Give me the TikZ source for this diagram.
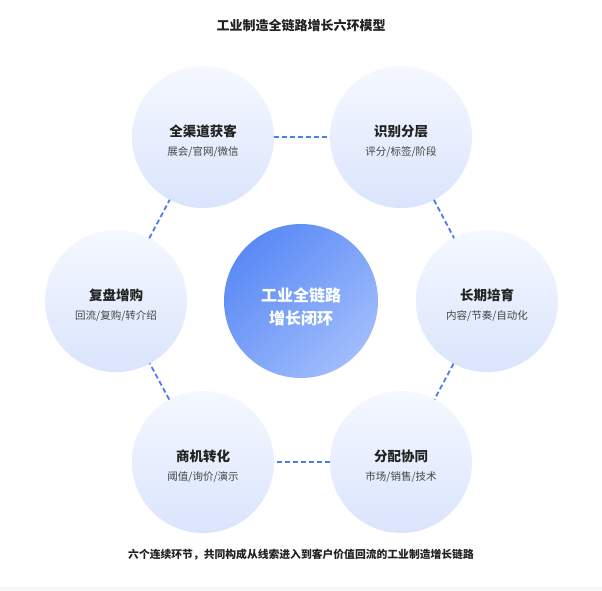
\documentclass[tikz,border=0pt]{standalone}
\usepackage{fontspec}
\setmainfont{Noto Sans CJK SC}
\usepackage{tikz}

\definecolor{ringtop}{HTML}{F5F8FF}
\definecolor{ringbot}{HTML}{DAE4FC}
\definecolor{hubtop}{HTML}{5A8AF6}
\definecolor{hubbot}{HTML}{A0BCFB}
\definecolor{linkblue}{HTML}{4A7CF2}
\definecolor{inkdark}{HTML}{222222}
\definecolor{inkgray}{HTML}{444444}
\definecolor{stripgray}{HTML}{F4F5F7}

\tikzset{
	stage/.style = {circle, minimum size = 142pt, inner sep = 0pt, outer sep = 0pt, top color = ringtop, bottom color = ringbot},
	hub/.style = {circle, minimum size = 154pt, inner sep = 0pt, outer sep = 0pt, top color = hubtop, bottom color = hubbot, shading angle = 45},
	ttl/.style = {inkdark, font = \fontsize{13.5}{16}\selectfont\bfseries},
	sub/.style = {inkgray, font = \fontsize{10.5}{13}\selectfont},
	link/.style = {linkblue, line width = 1.8pt, dash pattern = on 5pt off 3pt},
}

\begin{document}
\begin{tikzpicture}[x = 1pt, y = -1pt]
		\useasboundingbox (0,0) rectangle (602,591);
		\fill[white] (0,0) rectangle (602,591);
		\fill[stripgray] (0,587) rectangle (602,591);
		
		\node[inkdark, font = \fontsize{13}{16}\selectfont\bfseries] (title) at (301,26) {工业制造全链路增长六环模型};
		
		\node[hub] (hub) at (301,301) {};
		\node[white, align = center, font = \fontsize{16}{23}\selectfont\bfseries] (hub-t) at ([yshift = -6pt]hub) {工业全链路\\增长闭环};
		
		\foreach \n/\x/\y/\t/\s in {acq/203/137/全渠道获客/{展会/官网/微信},
				seg/401/137/识别分层/{评分/标签/阶段},
				nur/487/301/长期培育/{内容/节奏/自动化},
				dist/401/462/分配协同/{市场/销售/技术},
				opp/203/462/商机转化/{阈值/询价/演示},
				rep/116/301/复盘增购/{回流/复购/转介绍}} {
			\node[stage] (\n) at (\x,\y) {};
			\node[ttl] (\n-t) at ([yshift = 6pt]\n) {\t};
			\node[sub] (\n-s) at ([yshift = -15pt]\n) {\s};
		}
		
		\foreach \a/\b in {acq/seg, seg/nur, nur/dist, dist/opp, opp/rep, rep/acq}
			\draw[link] (\a) -- (\b);
		
		\node[inkdark, font = \fontsize{10.8}{13}\selectfont\bfseries] (caption) at (301,555) {六个连续环节，共同构成从线索进入到客户价值回流的工业制造增长链路};
	\end{tikzpicture}
\end{document}
